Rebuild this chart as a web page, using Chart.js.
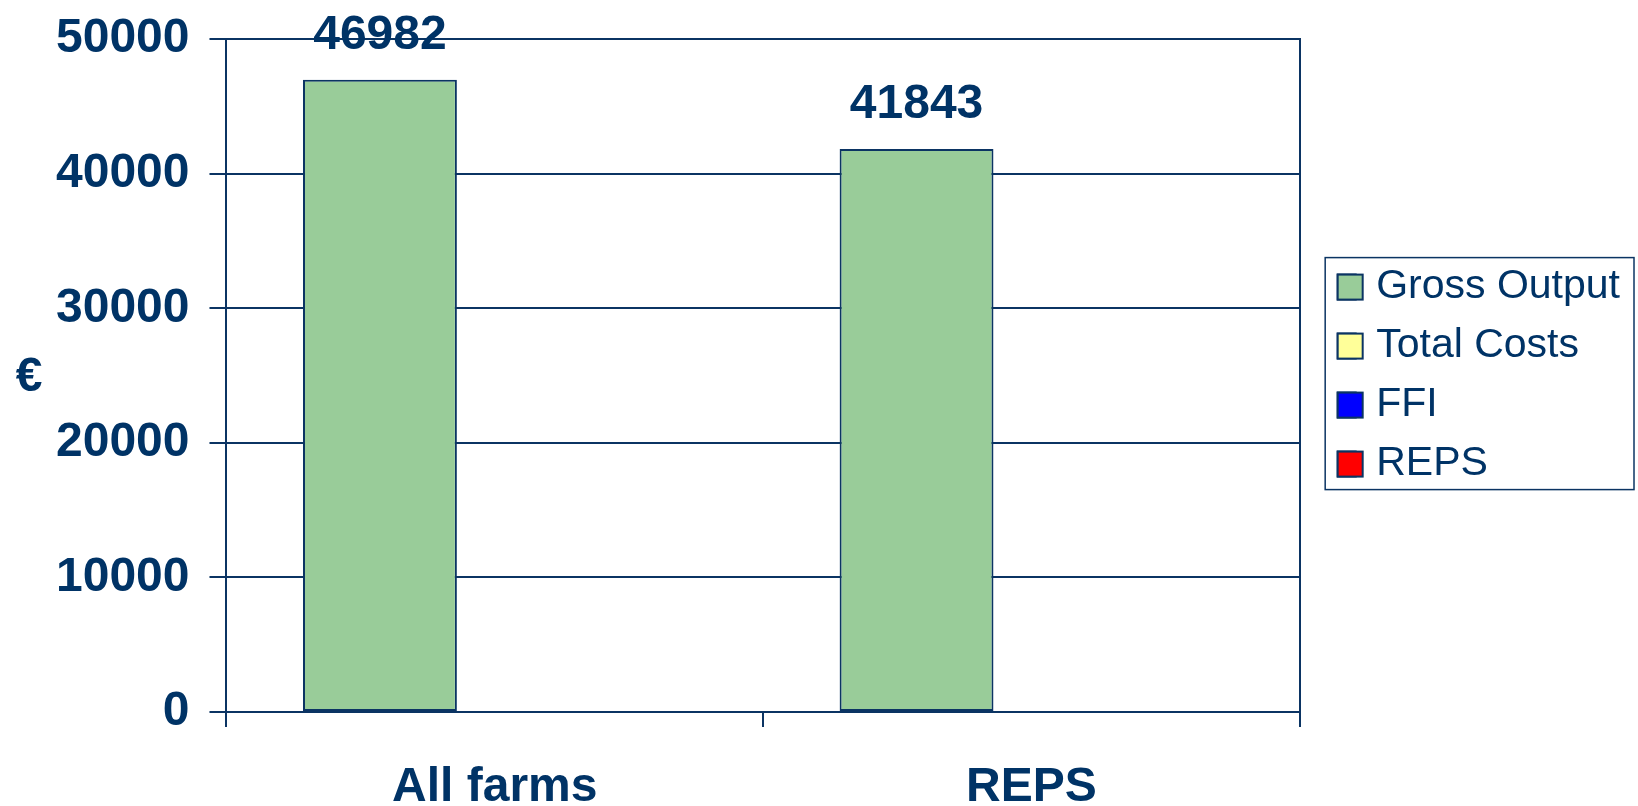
<!DOCTYPE html>
<html>
<head>
<meta charset="utf-8">
<script src="https://cdn.jsdelivr.net/npm/chart.js@4.4.1/dist/chart.umd.min.js"></script>
<style>
  html, body { margin: 0; padding: 0; background: #fff; }
  #wrap { width: 1638px; height: 806px; }
</style>
</head>
<body>
<div id="wrap"><canvas id="chart"></canvas></div>
<script>
// データ
const categories = ['All farms', 'REPS'];
const seriesNames = ['Gross Output', 'Total Costs', 'FFI', 'REPS'];
const grossOutput = [46982, 41843];
const totalCosts = [null, null];
const ffi = [null, null];
const repsPayments = [null, null];
const yTicks = [0, 10000, 20000, 30000, 40000, 50000];

const NAVY = '#003366';
const LINE = '#0b3463';
const FONT = '"Liberation Sans", Arial, sans-serif';
const LEGEND_BOX = 25;

// 凡例の枠・€記号・値ラベルを描く
const decor = {
    id: 'decor',
    afterDraw(chart) {
        const { ctx, chartArea: a } = chart;
        const legend = chart.legend;
        ctx.save();
        ctx.strokeStyle = LINE;

        // 凡例の枠と四角いマーカー（少し大きめに描き直す）
        const boxes = legend.legendHitBoxes;
        if (boxes && boxes.length) {
            const l = Math.min(...boxes.map(b => b.left));
            const t = Math.min(...boxes.map(b => b.top));
            const r = Math.max(...boxes.map(b => b.left + b.width));
            const btm = Math.max(...boxes.map(b => b.top + b.height));
            ctx.lineWidth = 1.5;
            ctx.strokeRect(l - 12.5, t - 9, (r - l) + 26.5, (btm - t) + 14);

            ctx.lineWidth = 2;
            legend.legendItems.forEach((item, i) => {
                const b = boxes[i];
                const y = b.top + (b.height - LEGEND_BOX) / 2;
                ctx.fillStyle = item.fillStyle;
                ctx.fillRect(b.left, y, LEGEND_BOX, LEGEND_BOX);
                ctx.strokeRect(b.left, y, LEGEND_BOX, LEGEND_BOX);
            });
        }

        // 縦軸の単位
        ctx.fillStyle = NAVY;
        ctx.font = 'bold 48px ' + FONT;
        ctx.textAlign = 'center';
        ctx.textBaseline = 'middle';
        ctx.fillText('€', 29, (a.top + a.bottom) / 2 + 2);

        // 値ラベル
        ctx.textBaseline = 'alphabetic';
        chart.getDatasetMeta(0).data.forEach((bar, i) => {
            ctx.fillText(String(grossOutput[i]), bar.x, bar.y - 31);
        });
        ctx.restore();
    }
};

const datasets = [
    { label: seriesNames[0], data: grossOutput, backgroundColor: '#99cc99', stack: 'output' },
    { label: seriesNames[1], data: totalCosts, backgroundColor: '#ffff99', stack: 'costs' },
    { label: seriesNames[2], data: ffi, backgroundColor: '#0000ff', stack: 'costs' },
    { label: seriesNames[3], data: repsPayments, backgroundColor: '#ff0000', stack: 'costs' }
].map(d => Object.assign(d, {
    borderColor: LINE,
    borderWidth: 2,
    borderSkipped: false,
    categoryPercentage: 0.856,
    barPercentage: 0.67
}));

new Chart(document.getElementById('chart'), {
    type: 'bar',
    data: { labels: categories, datasets },
    options: {
        responsive: true,
        maintainAspectRatio: false,
        animation: false,
        layout: { padding: { top: 38.5, right: 8, bottom: -43, left: 36 } },
        plugins: {
            legend: {
                position: 'right',
                fullSize: false,
                maxWidth: 400,
                labels: {
                    color: NAVY,
                    font: { family: FONT, size: 41 },
                    boxWidth: 18,
                    boxHeight: 25,
                    padding: 18
                }
            },
            tooltip: { enabled: false }
        },
        scales: {
            x: {
                stacked: true,
                grid: { offset: true, drawOnChartArea: false, tickLength: 15, color: LINE, lineWidth: 2 },
                border: { display: true, color: LINE, width: 2 },
                ticks: { color: NAVY, padding: 37, font: { family: FONT, size: 48, weight: 'bold', lineHeight: 1 } }
            },
            y: {
                stacked: true,
                min: 0,
                max: 50000,
                afterBuildTicks: s => { s.ticks = yTicks.map(v => ({ value: v })); },
                grid: { color: LINE, lineWidth: 2, tickLength: 17 },
                border: { display: true, color: LINE, width: 2 },
                ticks: {
                    color: NAVY,
                    padding: 20,
                    font: { family: FONT, size: 48, weight: 'bold', lineHeight: 0.8 },
                    callback: v => String(v)
                }
            },
            // 右側の枠線と凡例までの余白
            y2: {
                position: 'right',
                min: 0,
                max: 50000,
                grid: { display: false, drawTicks: false },
                border: { display: true, color: LINE, width: 2 },
                ticks: { display: false },
                afterFit: s => { s.width = 20; }
            }
        }
    },
    plugins: [decor]
});
</script>
</body>
</html>
